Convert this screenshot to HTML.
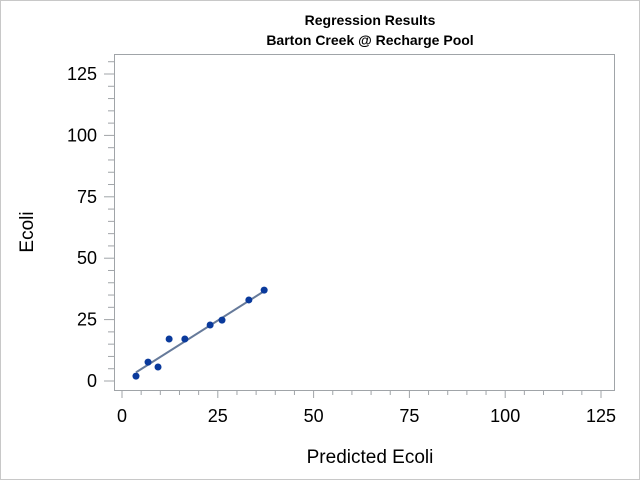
<!DOCTYPE html>
<html><head><meta charset="utf-8"><style>
body{margin:0;background:#fff;}
svg{display:block;font-family:"Liberation Sans",sans-serif;}
</style></head><body>
<svg id="chart" width="640" height="480">
<rect x="0.5" y="0.5" width="639" height="479" fill="#fff" stroke="#c8c8c8"/>
<text x="370" y="25" text-anchor="middle" font-size="14" font-weight="bold">Regression Results</text>
<text x="370" y="45" text-anchor="middle" font-size="14" font-weight="bold">Barton Creek @ Recharge Pool</text>
<rect x="114.5" y="54.5" width="500" height="336" fill="#fff" stroke="#a0a4a8"/>
<text x="370" y="463" text-anchor="middle" font-size="19">Predicted Ecoli</text>
<text transform="translate(33,232) rotate(-90)" text-anchor="middle" font-size="19">Ecoli</text>
<g id="axes"></g><g id="marks"></g>
</svg>
<script>
const xTicks=[0,25,50,75,100,125];
const yTicks=[0,25,50,75,100,125];
const predX=[3.65,6.8,9.4,12.3,16.4,23.0,26.1,33.1,37.1];
const obsY=[2.0,7.7,5.7,17.1,17.1,22.8,24.8,33.0,37.0];
const fitX=[3.65,37.1];
const fitY=[3.5,36.6];
const NS="http://www.w3.org/2000/svg";
const sx=v=>122+v*(601-122)/125;
const sy=v=>381-v*(381-74)/125;
const axes=document.getElementById('axes'),marks=document.getElementById('marks');
function mk(tag,attrs,parent){const e=document.createElementNS(NS,tag);for(const k in attrs)e.setAttribute(k,attrs[k]);parent.appendChild(e);return e;}
for(let v=0;v<=130;v+=5){
  const major=v%25===0;
  const x=sx(v);
  if(x<=614){const t=mk('line',{x1:x,x2:x,y1:390,y2:major?398:395,stroke:'#a0a4a8'},axes);
  
  }
  const y=sy(v);
  if(y>=54){const t2=mk('line',{x1:major?104:108,x2:114,y1:y,y2:y,stroke:'#a0a4a8'},axes);
  
  }
}
xTicks.forEach(v=>{const t=mk('text',{x:sx(v),y:422,'text-anchor':'middle','font-size':18},axes);t.textContent=v;

});
yTicks.forEach(v=>{const t=mk('text',{x:97,y:sy(v)+6,'text-anchor':'end','font-size':18},axes);t.textContent=v;

});
const ln=mk('line',{x1:sx(fitX[0]),y1:sy(fitY[0]),x2:sx(fitX[1]),y2:sy(fitY[1]),stroke:'#667a9a','stroke-width':2},marks);


predX.forEach((x,i)=>{const c=mk('circle',{cx:sx(x),cy:sy(obsY[i]),r:3.5,fill:'#0a3a9c'},marks);

});
</script>
</body></html>
